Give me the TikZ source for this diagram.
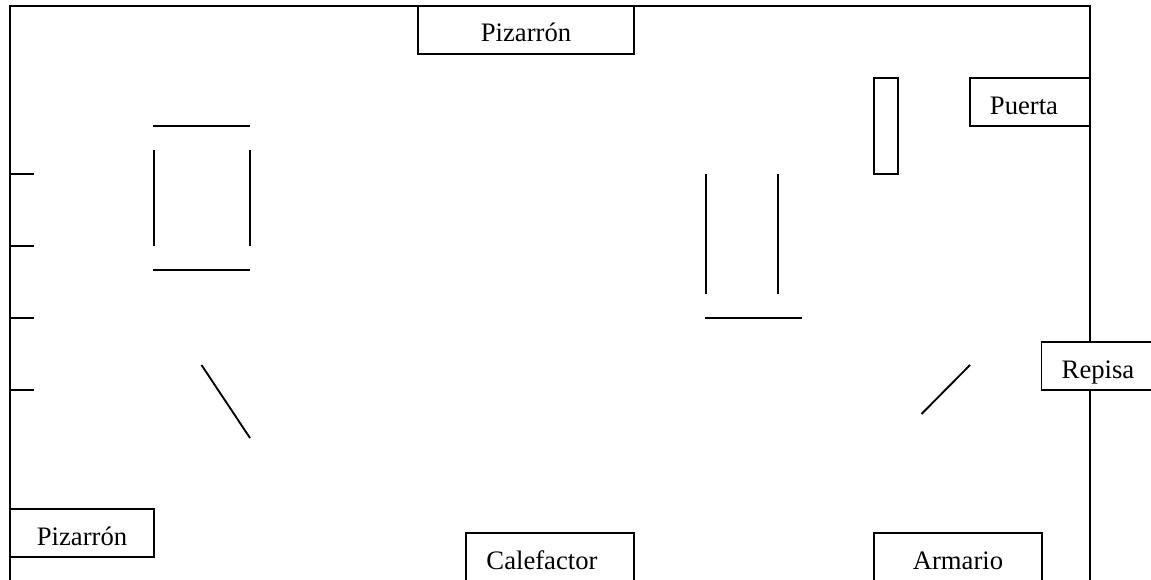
\documentclass[tikz,border=0pt]{standalone}
\usepackage{fontspec}
\setmainfont{Liberation Serif}

\tikzset{
	mueble/.style={draw, fill=white, inner sep=0pt, minimum height=36pt, text height=18pt, text depth=0pt, font=\fontsize{20}{24}\selectfont},
}

\begin{document}
\begin{tikzpicture}[x=0.75pt, y=-0.75pt, line width=1.4pt]
	\useasboundingbox (0,0) rectangle (1151,579);
	\coordinate (NW) at (10,5.7);
	\coordinate (NE) at (1090,5.7);
	\coordinate (SW) at (10,585);
	\coordinate (SE) at (1090,585);
	\draw (SW) -- (NW) -- (NE) -- (SE);
	\foreach \y in {174,246,318,390} {
		\coordinate (P1) at (10,\y);
		\coordinate (P2) at (34,\y);
		\draw (P1) -- (P2);
	}
	\node[mueble, minimum width=162pt, text height=16.5pt] (pizarron1) at (526,30) {Pizarrón};
	\node[mueble, minimum width=108pt] (pizarron2) at (82,533) {Pizarrón};
	\node[mueble, minimum width=126pt] (calefactor) at (550,557) {Calefactor\kern12pt};
	\node[mueble, minimum width=126pt] (armario) at (958,557) {Armario};
	\node[mueble, minimum width=90pt] (puerta) at (1030,102) {Puerta\kern9pt};
	\node[mueble, minimum width=84.75pt] (repisa) at (1098,366) {Repisa};
	\node[draw, inner sep=0pt, minimum width=18pt, minimum height=72pt] (estante) at (886,126) {};
	\coordinate (A1) at (153,126);
	\coordinate (A2) at (250,126);
	\coordinate (A3) at (153,270);
	\coordinate (A4) at (250,270);
	\coordinate (A5) at (154,150);
	\coordinate (A6) at (154,246);
	\coordinate (A7) at (250,150);
	\coordinate (A8) at (250,246);
	\draw (A1) -- (A2);
	\draw (A3) -- (A4);
	\draw (A5) -- (A6);
	\draw (A7) -- (A8);
	\coordinate (B1) at (201.5,365);
	\coordinate (B2) at (250,438);
	\draw (B1) -- (B2);
	\coordinate (C1) at (706,174);
	\coordinate (C2) at (706,294);
	\coordinate (C3) at (778,174);
	\coordinate (C4) at (778,294);
	\coordinate (C5) at (705,318);
	\coordinate (C6) at (802,318);
	\draw (C1) -- (C2);
	\draw (C3) -- (C4);
	\draw (C5) -- (C6);
	\coordinate (D1) at (970,365);
	\coordinate (D2) at (921.5,414);
	\draw (D1) -- (D2);
\end{tikzpicture}
\end{document}
